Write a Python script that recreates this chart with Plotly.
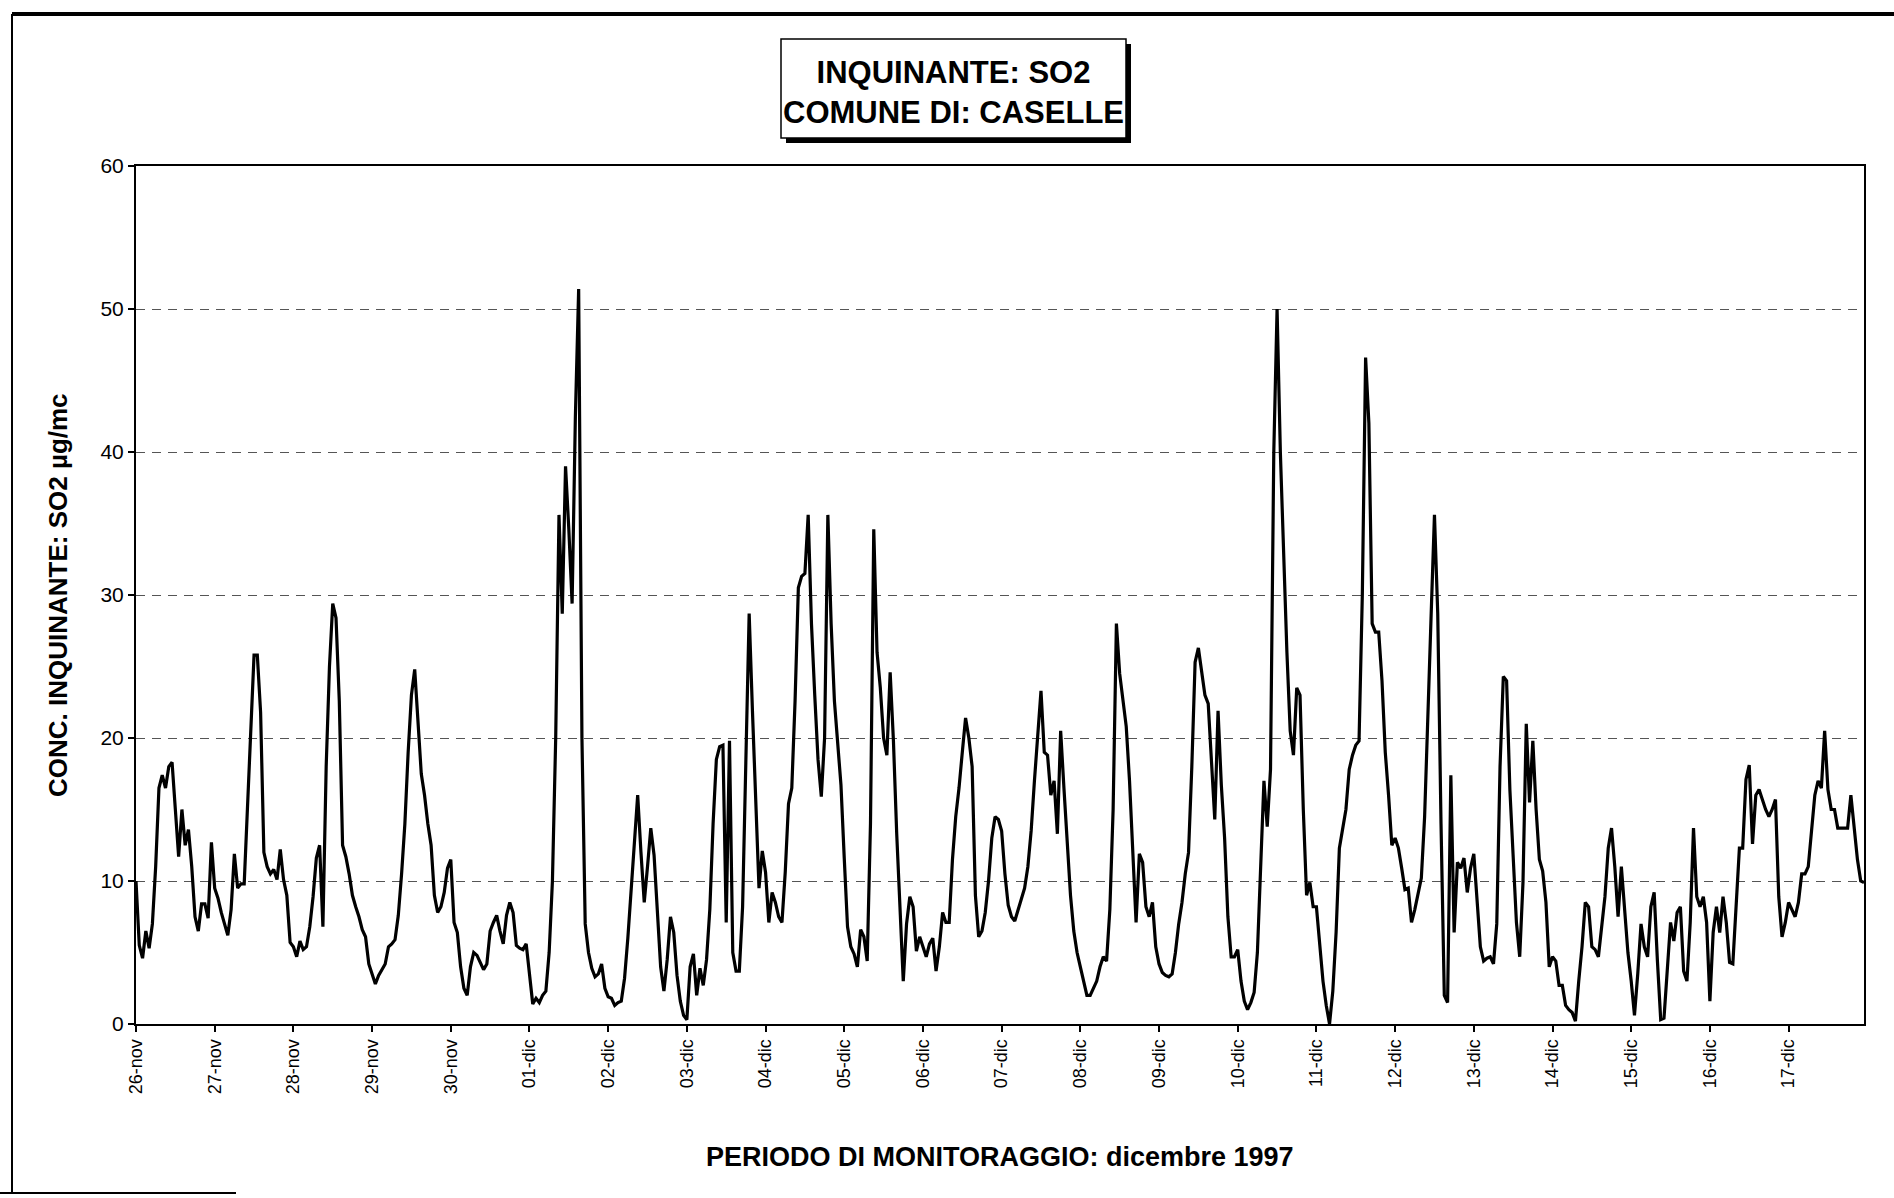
import pandas as pd
import plotly.graph_objects as go

# Hourly SO2 concentration (µg/mc), 26-nov-1997 00:00 .. 17-dic-1997 23:00, one row per day
so2 = [
    10, 5.5, 4.6, 6.5, 5.3, 7, 11, 16.5, 17.4, 16.5, 18, 18.3, 15, 11.7, 15, 12.5, 13.6, 11, 7.5, 6.5, 8.4, 8.4, 7.4, 12.7,
    9.5, 8.8, 7.8, 7, 6.2, 8, 11.9, 9.5, 9.8, 9.8, 15.6, 20.8, 25.8, 25.8, 21.8, 12, 11, 10.5, 10.8, 10.1, 12.2, 10.1, 9, 5.7,
    5.4, 4.7, 5.8, 5.2, 5.4, 6.8, 8.9, 11.6, 12.5, 6.8, 18, 25, 29.4, 28.4, 22.6, 12.5, 11.7, 10.5, 9, 8.2, 7.5, 6.6, 6.1, 4.2,
    3.5, 2.8, 3.4, 3.8, 4.2, 5.4, 5.6, 5.9, 7.6, 10.5, 14, 19, 23, 24.8, 21, 17.5, 16, 14, 12.5, 9, 7.8, 8.2, 9.2, 10.9,
    11.5, 7.1, 6.4, 4, 2.5, 2, 4, 5, 4.8, 4.3, 3.8, 4.2, 6.5, 7.1, 7.6, 6.5, 5.6, 7.6, 8.5, 7.8, 5.5, 5.3, 5.2, 5.6,
    3.7, 1.4, 1.8, 1.5, 2, 2.3, 5, 10, 20, 35.6, 28.7, 39, 34.6, 29.4, 42.5, 51.4, 20, 7, 5, 3.9, 3.3, 3.5, 4.2, 2.5,
    1.9, 1.8, 1.3, 1.5, 1.6, 3.2, 6, 9.5, 13.3, 16, 12, 8.5, 11, 13.7, 11.8, 7.5, 4, 2.3, 4.5, 7.5, 6.4, 3.4, 1.6, 0.6,
    0.3, 4, 4.9, 2, 3.9, 2.7, 4.5, 8, 14, 18.5, 19.4, 19.5, 7.1, 19.8, 5, 3.7, 3.7, 8.2, 17.8, 28.7, 21.9, 15.5, 9.5, 12.1,
    10.6, 7.1, 9.2, 8.5, 7.5, 7.1, 10.6, 15.4, 16.5, 22.6, 30.5, 31.3, 31.5, 35.6, 28, 23, 18.5, 15.9, 20, 35.6, 28, 22.6, 19.8, 16.7,
    11.6, 6.8, 5.4, 4.9, 4, 6.6, 6.1, 4.4, 14, 34.6, 26, 23.5, 20, 18.8, 24.6, 19.8, 13.3, 8.2, 3, 7, 8.9, 8.2, 5.1, 6.1,
    5.4, 4.7, 5.6, 6, 3.7, 5.4, 7.8, 7.1, 7.1, 11.5, 14.5, 16.5, 19, 21.4, 20, 18, 9, 6.1, 6.5, 7.8, 10, 13, 14.5, 14.3,
    13.5, 10.5, 8.3, 7.5, 7.2, 8, 8.7, 9.5, 11, 13.5, 17, 20.5, 23.3, 19, 18.8, 16, 17, 13.3, 20.5, 16.5, 12.5, 9, 6.5, 5,
    4, 3, 2, 2, 2.5, 3, 4, 4.7, 4.4, 8, 15, 28, 24.5, 22.5, 20.8, 17, 11.6, 7.1, 11.9, 11.3, 8.2, 7.5, 8.5, 5.4,
    4.2, 3.6, 3.4, 3.3, 3.5, 5, 7, 8.5, 10.5, 12, 18, 25.3, 26.3, 24.8, 23, 22.4, 17.8, 14.3, 21.9, 16.7, 13, 7.5, 4.7, 4.7,
    5.2, 3, 1.6, 1, 1.5, 2.2, 5, 11.6, 17, 13.8, 17.8, 40, 50, 40, 32.5, 26, 20.5, 18.8, 23.5, 23, 15, 9, 9.9, 8.2,
    8.2, 5.4, 3, 1.3, 0, 2.3, 6.4, 12.3, 13.7, 15, 17.8, 18.8, 19.5, 19.8, 30, 46.6, 42, 28, 27.4, 27.4, 24, 19, 16, 12.5,
    13, 12.3, 10.9, 9.4, 9.5, 7.1, 8, 9, 10.2, 14.5, 21, 28.7, 35.6, 28.7, 14, 2, 1.5, 17.4, 6.4, 11.3, 10.9, 11.6, 9.2, 10.9,
    11.9, 8.9, 5.4, 4.4, 4.6, 4.7, 4.2, 7, 18, 24.3, 24, 16.4, 11.6, 7.1, 4.7, 9.9, 21, 15.5, 19.8, 15, 11.5, 10.7, 8.5, 4,
    4.7, 4.4, 2.7, 2.7, 1.3, 1, 0.8, 0.2, 3, 5.4, 8.5, 8.2, 5.4, 5.2, 4.7, 7, 8.9, 12.3, 13.7, 11, 7.5, 11, 8, 5,
    3, 0.6, 3.5, 7, 5.4, 4.7, 8.2, 9.2, 4.4, 0.3, 0.4, 3.7, 7.1, 5.8, 7.8, 8.2, 3.7, 3, 7.1, 13.7, 8.9, 8.2, 8.9, 7.1,
    1.6, 6.4, 8.2, 6.4, 8.9, 7.1, 4.3, 4.2, 8, 12.3, 12.3, 17.1, 18.1, 12.6, 16, 16.4, 15.7, 15, 14.5, 15, 15.7, 8.9, 6.1, 7.1,
    8.5, 8, 7.5, 8.5, 10.5, 10.5, 11, 13.5, 16, 17, 16.5, 20.5, 16.4, 15, 15, 13.7, 13.7, 13.7, 13.7, 16, 13.5, 11.5, 10, 9.9,
]

day_labels = ["26-nov", "27-nov", "28-nov", "29-nov", "30-nov", "01-dic", "02-dic", "03-dic",
              "04-dic", "05-dic", "06-dic", "07-dic", "08-dic", "09-dic", "10-dic", "11-dic",
              "12-dic", "13-dic", "14-dic", "15-dic", "16-dic", "17-dic"]
y_ticks = [0, 10, 20, 30, 40, 50, 60]

times = pd.date_range("1997-11-26 00:00", periods=len(so2), freq="h")
day_starts = pd.date_range("1997-11-26", periods=len(day_labels), freq="D")

W, H = 1894, 1198
L, R, T, B = 136, 30, 166, 174
pw, ph = W - L - R, H - T - B


def px(x):
    return (x - L) / pw


def py(y):
    return (H - B - y) / ph


FONT = "Arial, Liberation Sans, sans-serif"

fig = go.Figure()
fig.add_trace(go.Scatter(x=times, y=so2, mode="lines",
                         line=dict(color="black", width=3.2), hoverinfo="x+y",
                         showlegend=False))

fig.update_layout(
    width=W, height=H,
    margin=dict(l=L, r=R, t=T, b=B),
    paper_bgcolor="white", plot_bgcolor="white",
    font=dict(family=FONT, color="black"),
    showlegend=False,
)

fig.update_xaxes(
    range=[times[0], times[-1]],
    tickmode="array", tickvals=day_starts, ticktext=day_labels,
    tickangle=-90, tickfont=dict(size=18, family=FONT, color="black"),
    ticks="outside", ticklen=6, tickcolor="black", tickwidth=1.5,
    showline=True, linecolor="black", linewidth=2, mirror=True,
    showgrid=False, zeroline=False,
)
fig.update_yaxes(
    range=[0, 60], tickmode="array", tickvals=y_ticks,
    tickfont=dict(size=21, family=FONT, color="black"),
    ticks="outside", ticklen=6, tickcolor="black", tickwidth=1.5,
    showline=True, linecolor="black", linewidth=2, mirror=True,
    showgrid=True, gridcolor="#555555", gridwidth=1, griddash="9px,7px",
    zeroline=False,
)

# title box with shadow
bx0, bx1, by0, by1 = 781, 1126, 39, 138
fig.add_shape(type="rect", xref="paper", yref="paper",
              x0=px(bx0 + 5), x1=px(bx1 + 5), y0=py(by1 + 5), y1=py(by0 + 5),
              fillcolor="black", line=dict(width=0))
fig.add_shape(type="rect", xref="paper", yref="paper",
              x0=px(bx0), x1=px(bx1), y0=py(by1), y1=py(by0),
              fillcolor="white", line=dict(color="black", width=1.5))
fig.add_annotation(x=px((bx0 + bx1) / 2), y=py((by0 + by1) / 2 + 4), xref="paper", yref="paper",
                   xanchor="center", yanchor="middle",
                   text="<b>INQUINANTE: SO2</b><br><b>COMUNE DI: CASELLE</b>",
                   showarrow=False, align="center",
                   font=dict(size=31, family=FONT, color="black"))

# axis titles
fig.add_annotation(x=px(58), y=0.5, xref="paper", yref="paper",
                   xanchor="center", yanchor="middle",
                   text="<b>CONC. INQUINANTE: SO2 µg/mc</b>", textangle=-90,
                   showarrow=False, font=dict(size=26, family=FONT, color="black"))
fig.add_annotation(x=0.5, y=py(1157), xref="paper", yref="paper",
                   xanchor="center", yanchor="middle",
                   text="<b>PERIODO DI MONITORAGGIO: dicembre 1997</b>",
                   showarrow=False, font=dict(size=27, family=FONT, color="black"))

# outer frame (top, left, bottom-left stub)
fig.add_shape(type="line", xref="paper", yref="paper",
              x0=px(12), x1=px(W), y0=py(14), y1=py(14), line=dict(color="black", width=4))
fig.add_shape(type="line", xref="paper", yref="paper",
              x0=px(12), x1=px(12), y0=py(14), y1=py(1193), line=dict(color="black", width=2))
fig.add_shape(type="line", xref="paper", yref="paper",
              x0=px(0), x1=px(236), y0=py(1193), y1=py(1193), line=dict(color="black", width=2))

fig.write_html("out.html",
               config={"displayModeBar": False},
               post_script="document.body.style.margin='0';document.body.style.overflow='hidden';")
